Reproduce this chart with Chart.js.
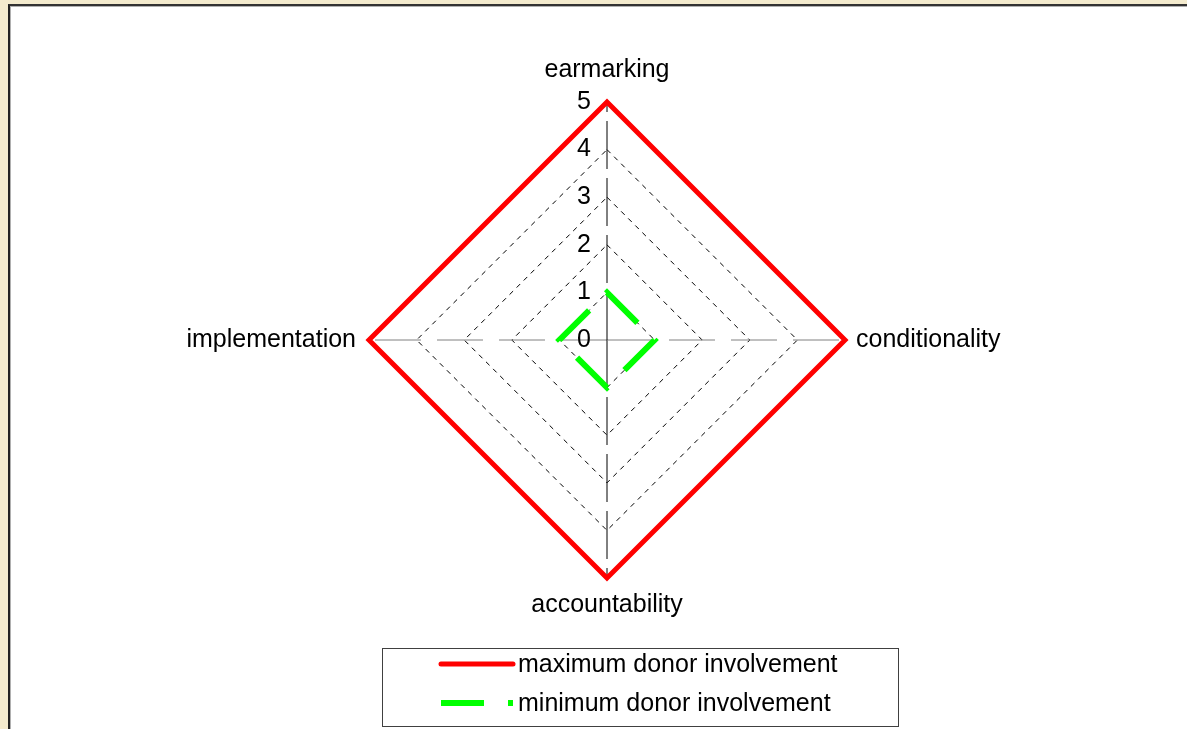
<!DOCTYPE html>
<html>
<head>
<meta charset="utf-8">
<script src="https://cdn.jsdelivr.net/npm/chart.js@4.4.1/dist/chart.umd.min.js"></script>
<style>
  html, body { margin: 0; padding: 0; width: 1187px; height: 729px; overflow: hidden; background: #F4EBCE; }
  #panel { position: absolute; left: 8px; top: 4px; width: 1200px; height: 740px; background: #fff;
           border-top: 2px solid #333; border-left: 2px solid #222; box-shadow: inset 1px 1px 0 #b0b0b0; }
  #c { position: absolute; left: 0; top: 0; }
</style>
</head>
<body>
<div id="panel"></div>
<canvas id="c" width="1187" height="729"></canvas>
<script>
// ---- data ----
const categories = ['earmarking', 'conditionality', 'accountability', 'implementation'];
const maxInvolvement = [5, 5, 5, 5];
const minInvolvement = [1, 1, 1, 1];
const seriesNames = ['maximum donor involvement', 'minimum donor involvement'];
const tickLabels = [0, 1, 2, 3, 4, 5];

const FONT = "'Liberation Sans', Arial, sans-serif";

const tickPlugin = {
  id: 'tickLabels',
  afterDraw(chart) {
    const s = chart.scales.r;
    const ctx = chart.ctx;
    ctx.save();
    ctx.font = '25px ' + FONT;
    ctx.fillStyle = '#000';
    ctx.textAlign = 'right';
    ctx.textBaseline = 'middle';
    tickLabels.forEach(v => {
      const y = s.yCenter - s.getDistanceFromCenterForValue(v);
      ctx.fillText(String(v), s.xCenter - 16, y);
    });
    ctx.restore();
  }
};

const boxLegend = {
  id: 'boxLegend',
  afterDraw(chart) {
    const ctx = chart.ctx;
    const s = chart.scales.r;
    const left = s.xCenter - 225, top = chart.chartArea.bottom + 25, w = 516, h = 78;
    ctx.save();
    ctx.fillStyle = '#fff';
    ctx.fillRect(left, top, w, h);
    ctx.strokeStyle = '#404040';
    ctx.lineWidth = 1;
    ctx.strokeRect(left + 0.5, top + 0.5, w, h);
    const rows = [top + 16, top + 55];
    chart.data.datasets.forEach((ds, i) => {
      const y = rows[i];
      ctx.beginPath();
      ctx.strokeStyle = ds.borderColor;
      ctx.lineWidth = ds.borderWidth;
      ctx.setLineDash(ds.borderDash || []);
      ctx.lineCap = i === 0 ? 'round' : 'butt';
      ctx.moveTo(left + 59, y);
      ctx.lineTo(left + 131, y);
      ctx.stroke();
      ctx.setLineDash([]);
      ctx.fillStyle = '#000';
      ctx.font = '25px ' + FONT;
      ctx.textAlign = 'left';
      ctx.textBaseline = 'middle';
      ctx.fillText(ds.label, left + 136, y + 1);
    });
    ctx.restore();
  }
};

new Chart(document.getElementById('c'), {
  type: 'radar',
  data: {
    labels: categories,
    datasets: [
      { label: seriesNames[0], data: maxInvolvement, borderColor: '#FF0000', borderWidth: 5,
        fill: false, pointRadius: 0, pointHoverRadius: 0, borderJoinStyle: 'miter' },
      { label: seriesNames[1], data: minInvolvement, borderColor: '#00FF00', borderWidth: 6,
        borderDash: [43, 24], fill: false, pointRadius: 0, pointHoverRadius: 0, borderJoinStyle: 'miter' }
    ]
  },
  options: {
    responsive: false,
    animation: false,
    devicePixelRatio: 1,
    layout: { padding: { top: 53, bottom: 106, left: 27, right: 0 } },
    plugins: { legend: { display: false }, tooltip: { enabled: false } },
    elements: { line: { tension: 0 } },
    scales: {
      r: {
        min: 0, max: 5,
        ticks: { display: false, stepSize: 1 },
        grid: { color: '#000', lineWidth: 1, circular: false },
        border: { dash: [5, 5] },
        angleLines: {
          color: (ctx) => (ctx.index % 2 === 0 ? '#000' : '#808080'),
          lineWidth: 1,
          borderDash: (ctx) => (ctx.index % 2 === 0 ? [48, 9] : [46, 16])
        },
        pointLabels: {
          color: '#000',
          font: { family: FONT, size: 25 },
          padding: (ctx) => [17, 11, 12, 13][ctx.index]
        }
      }
    }
  },
  plugins: [tickPlugin, boxLegend]
});
</script>
</body>
</html>
